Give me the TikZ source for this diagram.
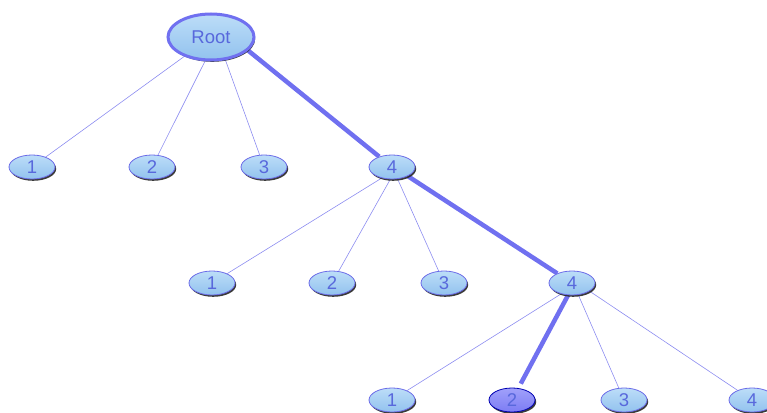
\documentclass[tikz,border=0pt]{standalone}
\usepackage{fontspec}
\setmainfont{Liberation Sans}
\usetikzlibrary{shapes.geometric,shadows,backgrounds}
\definecolor{nfillT}{HTML}{BCDDF8}
\definecolor{nfillB}{HTML}{92C2EE}
\definecolor{nline}{HTML}{6C6CE8}
\definecolor{ntext}{HTML}{5868DC}
\definecolor{edgethin}{HTML}{8C8CF0}
\definecolor{edgethick}{HTML}{7070F0}
\definecolor{selT}{HTML}{A0A0FA}
\definecolor{selB}{HTML}{7C7CF4}
\tikzset{
  treenode/.style={ellipse, draw=nline, line width=0.8pt, top color=nfillT, bottom color=nfillB,
    minimum width=46pt, minimum height=24pt, inner sep=0pt, text=ntext,
    font=\fontsize{18.5pt}{18.5pt}\selectfont,
    drop shadow={shadow xshift=1.2pt, shadow yshift=-1.8pt, fill=black!85, opacity=0.9}},
  rootnode/.style={treenode, draw=edgethick, line width=3pt, minimum width=86pt, minimum height=46pt},
  selnode/.style={treenode, draw=blue!70!black, top color=selT, bottom color=selB},
  thin edge/.style={draw=edgethin, line width=0.6pt},
  thick edge/.style={draw=edgethick, line width=4.5pt},
}
\begin{document}
\begin{tikzpicture}[x=1pt,y=-1pt]
\useasboundingbox (0,0) rectangle (767,412);
\node[rootnode] (root) at (211,37) {Root};
\node[treenode] (a1) at (32,167) {1};
\node[treenode] (a2) at (152,167) {2};
\node[treenode] (a3) at (264,167) {3};
\node[treenode] (a4) at (392,167) {4};
\node[treenode] (b1) at (212,283) {1};
\node[treenode] (b2) at (332,283) {2};
\node[treenode] (b3) at (444,283) {3};
\node[treenode] (b4) at (572,283) {4};
\node[treenode] (c1) at (392,400) {1};
\node[selnode] (c2) at (512,400) {2};
\node[treenode] (c3) at (624,400) {3};
\node[treenode] (c4) at (752,400) {4};
\begin{pgfonlayer}{background}
\draw[thin edge] (root.216) -- (a1);
\draw[thin edge] (root.256) -- (a2);
\draw[thin edge] (root.302) -- (a3);
\draw[thick edge] (root.340) -- (a4);
\draw[thin edge] (a4.227) -- (b1);
\draw[thin edge] (a4.262) -- (b2);
\draw[thin edge] (a4.295) -- (b3);
\draw[thick edge] (a4.330) -- (b4);
\draw[thin edge] (b4.225) -- (c1);
\draw[thick edge, shorten >=5pt] (b4.252) -- (c2);
\draw[thin edge] (b4.298) -- (c3);
\draw[thin edge] (b4.335) -- (c4);
\end{pgfonlayer}
\end{tikzpicture}
\end{document}
